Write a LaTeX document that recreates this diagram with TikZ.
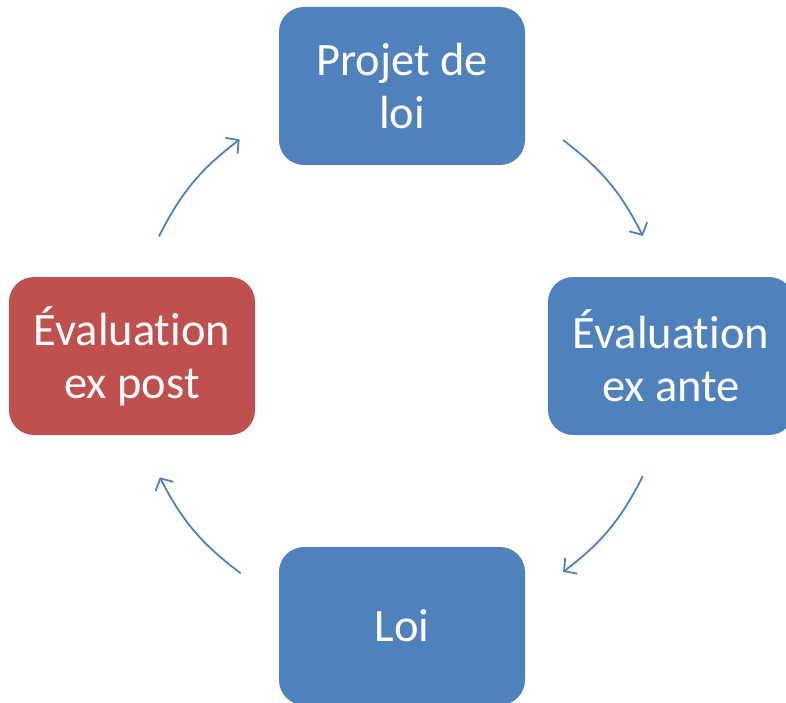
\documentclass[tikz,border=0pt]{standalone}
\usepackage{fontspec}
\setmainfont{Carlito}[Ligatures=NoCommon]
\usetikzlibrary{arrows.meta}
\definecolor{cycblue}{HTML}{4F81BD}
\definecolor{cycred}{HTML}{C0504D}
\tikzset{
  etape/.style={rectangle, rounded corners=25pt, minimum width=246pt, minimum height=158pt,
    inner sep=0pt, text=white, align=center, font=\fontsize{46.5}{53}\selectfont},
  fleche/.style={draw=cycblue, line width=1.8pt,
    -{Straight Barb[length=9pt, width=20pt, line width=1.8pt]}}
}
\begin{document}
\begin{tikzpicture}[x=1pt,y=-1pt]
  \useasboundingbox (0,0) rectangle (786,703);
  \clip (0,0) rectangle (786,703);
  \coordinate (c) at (401,356);
  \node[etape, fill=cycblue] (projet) at (402,86) {Projet de\\loi};
  \node[etape, fill=cycblue] (ante) at (671,356) {Évaluation\\ex ante};
  \node[etape, fill=cycblue] (loi) at (402,626) {Loi};
  \node[etape, fill=cycred] (post) at (132,356) {Évaluation\\ex post};
  % ends of the cycle arrows
  \foreach \i/\a/\b in {1/-53.1/-26.4, 2/26.4/53.1, 3/126.4/153.3, 4/-153.7/-126.7}{
    \path (c) ++(\a:270) coordinate (s\i);
    \path (c) ++(\b:270) coordinate (e\i);
  }
  \foreach \i in {1,...,4}
    \draw[fleche] (s\i) to[bend left=13] (e\i);
\end{tikzpicture}
\end{document}
